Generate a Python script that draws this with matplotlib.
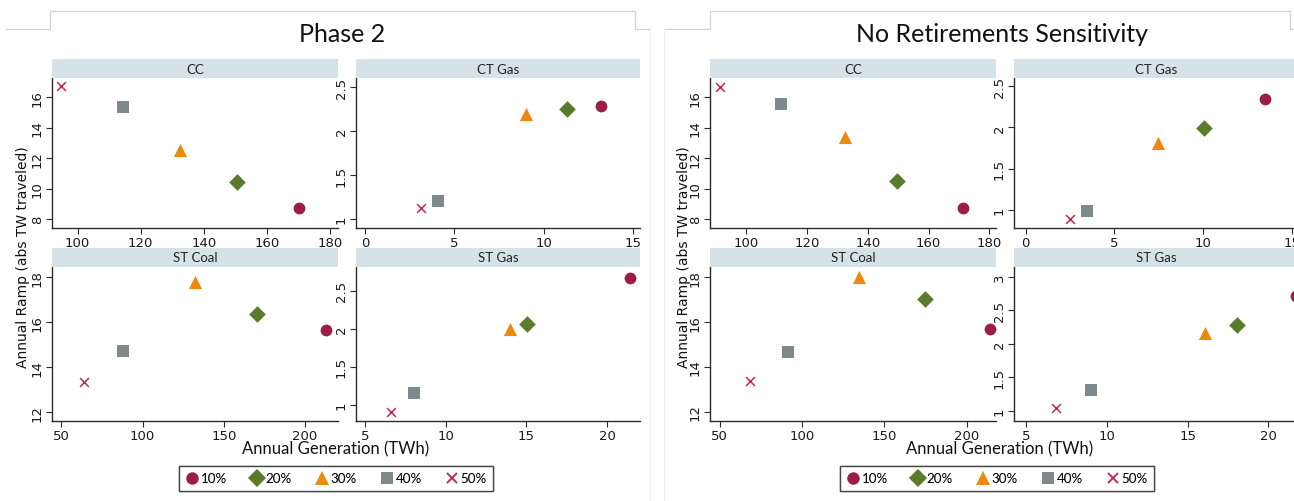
import matplotlib
matplotlib.use("Agg")
import matplotlib.pyplot as plt
from matplotlib.lines import Line2D
from matplotlib.ticker import FuncFormatter

# ---------------------------------------------------------------- data
levels = ["10%", "20%", "30%", "40%", "50%"]

# Phase 2
phase2_cc_gen = [170.0, 150.6, 132.6, 114.3, 94.9]
phase2_cc_ramp = [8.70, 10.45, 12.55, 15.34, 16.72]
phase2_ctgas_gen = [13.2, 11.3, 9.04, 4.07, 3.15]
phase2_ctgas_ramp = [2.29, 2.25, 2.20, 1.21, 1.13]
phase2_stcoal_gen = [213.2, 170.6, 132.0, 87.9, 64.0]
phase2_stcoal_ramp = [15.67, 16.37, 17.80, 14.74, 13.33]
phase2_stgas_gen = [21.45, 15.07, 13.97, 8.02, 6.62]
phase2_stgas_ramp = [2.66, 2.06, 1.99, 1.16, 0.91]

# No retirements sensitivity
noret_cc_gen = [171.4, 149.6, 132.5, 111.3, 91.3]
noret_cc_ramp = [8.70, 10.50, 13.40, 15.55, 16.70]
noret_ctgas_gen = [13.5, 10.05, 7.45, 3.44, 2.52]
noret_ctgas_ramp = [2.35, 1.99, 1.81, 0.99, 0.89]
noret_stcoal_gen = [214.4, 174.8, 134.5, 91.6, 68.2]
noret_stcoal_ramp = [15.70, 17.04, 18.00, 14.67, 13.35]
noret_stgas_gen = [21.7, 18.05, 16.1, 9.0, 6.83]
noret_stgas_ramp = [2.71, 2.28, 2.16, 1.31, 1.04]

panel_titles = ["Phase 2", "No Retirements Sensitivity"]
facet_names = ["CC", "CT Gas", "ST Coal", "ST Gas"]

# ---------------------------------------------------------------- style
W, H = 1294, 502
fig = plt.figure(figsize=(W / 100, H / 100), dpi=100)
fig.patch.set_facecolor("white")

LABEL_FONT = "Lato"
TICK_FONT = "DejaVu Sans"
AXIS_COLOR = "#2b2b2b"
STRIP_COLOR = "#d5e3e9"
FRAME_COLOR = "#d2d2d2"

marker_styles = [
    dict(marker="o", color="#9b1d48", size=72, lw=0),
    dict(marker="D", color="#5a7a2c", size=72, lw=0),
    dict(marker="^", color="#ec8a10", size=90, lw=0),
    dict(marker="s", color="#7d898a", size=66, lw=0),
    dict(marker="x", color="#c5294f", size=40, lw=1.1),
]


def fig_box(x0, y0, x1, y1):
    return [x0 / W, 1 - y1 / H, (x1 - x0) / W, (y1 - y0) / H]


def fmt_num(v, _pos):
    return "%g" % v


def facet(x0, y0, x1, y1, gen, ramp, xlim, ylim, xticks, yticks, name):
    ax = fig.add_axes(fig_box(x0, y0, x1, y1))
    for i, st in enumerate(marker_styles):
        ax.scatter([gen[i]], [ramp[i]], marker=st["marker"], s=st["size"],
                   color=st["color"], linewidths=st["lw"], zorder=3,
                   clip_on=False)
    ax.set_xlim(*xlim)
    ax.set_ylim(*ylim)
    ax.set_xticks(xticks)
    ax.set_yticks(yticks)
    ax.xaxis.set_major_formatter(FuncFormatter(fmt_num))
    ax.yaxis.set_major_formatter(FuncFormatter(fmt_num))
    for side in ("top", "right"):
        ax.spines[side].set_visible(False)
    for side in ("left", "bottom"):
        ax.spines[side].set_color(AXIS_COLOR)
        ax.spines[side].set_linewidth(1.0)
    ax.tick_params(axis="both", direction="out", length=4, width=0.8,
                   color=AXIS_COLOR, labelsize=9.5, labelcolor="#1a1a1a",
                   pad=2)
    for lab in ax.get_yticklabels():
        lab.set_rotation(90)
        lab.set_va("center")
        lab.set_family(TICK_FONT)
    for lab in ax.get_xticklabels():
        lab.set_family(TICK_FONT)
    ax.set_facecolor("none")
    # strip header
    sy0 = y0 - 19
    sax = fig.add_axes(fig_box(x0, sy0, x1, y0))
    sax.set_facecolor(STRIP_COLOR)
    sax.set_xticks([])
    sax.set_yticks([])
    for sp in sax.spines.values():
        sp.set_visible(False)
    sax.text(0.5, 0.5, name, ha="center", va="center", fontsize=9.5,
             family=LABEL_FONT, color="#222222", transform=sax.transAxes)
    return ax


def frame(x_left, x_tab0, x_tab1, x_right):
    xs = [x_left, x_tab0, x_tab0, x_tab1, x_tab1, x_right]
    ys = [30, 30, 12, 12, 30, 30]
    fig.add_artist(Line2D([x / W for x in xs], [1 - y / H for y in ys],
                          color=FRAME_COLOR, lw=0.9, transform=fig.transFigure))


def block_labels(cx_title, x_ylabel, cx_xlabel, title):
    fig.text(cx_title / W, 1 - 35 / H, title, ha="center", va="center",
             fontsize=18, family=LABEL_FONT, color="#111111")
    fig.text(x_ylabel / W, 1 - 257 / H, "Annual Ramp (abs TW traveled)",
             rotation=90, ha="center", va="center", fontsize=10,
             family=TICK_FONT, color="#111111")
    fig.text(cx_xlabel / W, 1 - 449 / H, "Annual Generation (TWh)",
             ha="center", va="center", fontsize=12, family=LABEL_FONT,
             color="#111111")


# ---------------------------------------------------------------- left block
frame(6, 50, 635, 650)
fig.add_artist(Line2D([650 / W, 650 / W], [1 - 30 / H, 0], color="#eeeeee",
                      lw=0.8, transform=fig.transFigure))
block_labels(342, 23, 336, panel_titles[0])

facet(52, 79, 338, 229, phase2_cc_gen, phase2_cc_ramp,
      (91.9, 182.5), (7.41, 17.27), [100, 120, 140, 160, 180],
      [8, 10, 12, 14, 16], facet_names[0])
facet(356, 79, 640, 229, phase2_ctgas_gen, phase2_ctgas_ramp,
      (-0.5, 15.4), (0.897, 2.606), [0, 5, 10, 15],
      [1, 1.5, 2, 2.5], facet_names[1])
facet(52, 268, 338, 421.7, phase2_stcoal_gen, phase2_stcoal_ramp,
      (44.2, 220.3), (11.63, 18.46), [50, 100, 150, 200],
      [12, 14, 16, 18], facet_names[2])
facet(356, 268, 640, 421.7, phase2_stgas_gen, phase2_stgas_ramp,
      (4.44, 22.05), (0.79, 2.81), [5, 10, 15, 20],
      [1, 1.5, 2, 2.5], facet_names[3])

# ---------------------------------------------------------------- right block
frame(664, 710, 1290, 1300)
fig.add_artist(Line2D([664 / W, 664 / W], [1 - 30 / H, 0], color="#eeeeee",
                      lw=0.8, transform=fig.transFigure))
block_labels(1002, 684, 1000, panel_titles[1])

facet(710, 79, 996, 229, noret_cc_gen, noret_cc_ramp,
      (88.06, 182.2), (7.41, 17.27), [100, 120, 140, 160, 180],
      [8, 10, 12, 14, 16], facet_names[0])
facet(1014, 79, 1298, 229, noret_ctgas_gen, noret_ctgas_ramp,
      (-0.65, 15.35), (0.78, 2.6), [0, 5, 10, 15],
      [1, 1.5, 2, 2.5], facet_names[1])
facet(710, 268, 996, 421.7, noret_stcoal_gen, noret_stcoal_ramp,
      (44.1, 217.9), (11.6, 18.46), [50, 100, 150, 200],
      [12, 14, 16, 18], facet_names[2])
facet(1014, 268, 1298, 421.7, noret_stgas_gen, noret_stgas_ramp,
      (4.24, 21.84), (0.85, 3.15), [5, 10, 15, 20],
      [1, 1.5, 2, 2.5, 3], facet_names[3])

# ---------------------------------------------------------------- legends
handles = [Line2D([], [], linestyle="none", marker=st["marker"],
                  color=st["color"],
                  markersize=(st["size"] ** 0.5) * 1.05,
                  markeredgewidth=st["lw"] * 1.2 if st["marker"] == "x" else 0)
           for st in marker_styles]
for cx in (336, 997):
    leg = fig.legend(handles, levels, loc="center",
                     bbox_to_anchor=(cx / W, 1 - 479.5 / H), ncol=5,
                     frameon=True, fancybox=False, edgecolor="#333333",
                     handlelength=1.0, handletextpad=0.15, columnspacing=1.75,
                     borderpad=0.5, borderaxespad=0.0,
                     prop={"family": LABEL_FONT, "size": 9.6})
    leg.get_frame().set_linewidth(1.0)
    fig.add_artist(leg)

fig.savefig("out.png", dpi=100, facecolor="white")
